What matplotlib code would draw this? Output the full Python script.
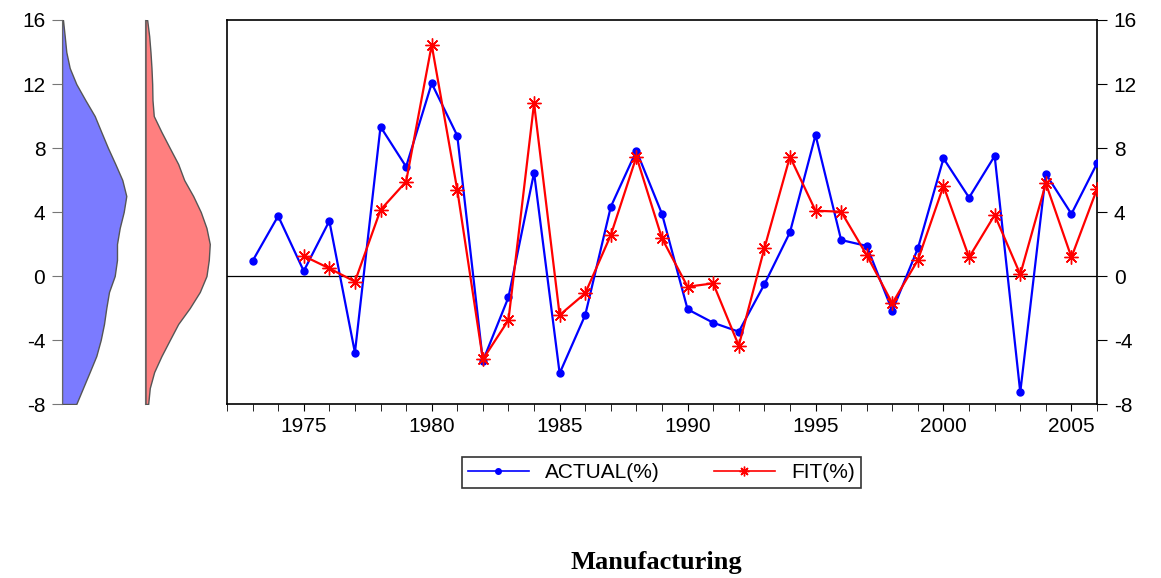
#!/usr/bin/env python3
# Actual vs fitted growth, manufacturing, with marginal density profiles on the left

import numpy as np
import matplotlib.pyplot as plt
from matplotlib.lines import Line2D

plt.rcParams['font.family'] = ['Liberation Sans', 'DejaVu Sans']
plt.rcParams['axes.unicode_minus'] = False

years_actual = list(range(1973, 2007))
actual = [0.94, 3.75, 0.31, 3.44, -4.79, 9.33, 6.83, 12.04, 8.77, -5.31,
          -1.33, 6.46, -6.08, -2.44, 4.33, 7.83, 3.88, -2.08, -2.92, -3.48,
          -0.52, 2.73, 8.81, 2.25, 1.88, -2.17, 1.73, 7.35, 4.90, 7.50,
          -7.27, 6.38, 3.88, 7.04]

years_fit = list(range(1975, 2007))
fit = [1.25, 0.48, -0.35, 4.13, 5.90, 14.44, 5.38, -5.21, -2.75, 10.79,
       -2.44, -1.08, 2.56, 7.46, 2.35, -0.67, -0.46, -4.35, 1.73, 7.46,
       4.08, 4.02, 1.31, -1.71, 1.00, 5.63, 1.17, 3.81, 0.10, 5.79,
       1.17, 5.44]

# density profiles (level, relative width)
dens_levels = [16, 15, 14, 13, 12, 11, 10, 9, 8, 7, 6, 5, 4, 3, 2, 1,
               0, -1, -2, -3, -4, -5, -6, -7, -8]
dens_actual = [1.0, 2.7, 4.3, 7.7, 14.3, 23.3, 32.7, 39.3, 46.0, 53.3, 60.3,
               64.3, 61.7, 57.7, 55.0, 55.0, 52.7, 47.0, 44.3, 42.0, 38.7,
               34.3, 27.7, 21.0, 14.3]
dens_fit = [1.7, 3.7, 5.0, 6.0, 6.7, 7.0, 8.3, 16.0, 24.3, 32.7, 38.7, 47.7,
            55.3, 61.0, 64.3, 63.3, 61.0, 54.3, 44.3, 32.7, 24.3, 16.0, 8.7,
            4.3, 2.7]

yticks = [16, 12, 8, 4, 0, -4, -8]
FS = 15

fig = plt.figure(figsize=(11.61, 5.78), dpi=100)

# main panel
ax = fig.add_axes([0.1955, 0.301, 0.7494, 0.6644])
ax.axhline(0, color='black', lw=0.9, zorder=1)
ax.plot(years_actual, actual, color='#0000ff', lw=1.6, marker='o',
        markersize=5, zorder=3)
ax.plot(years_fit, fit, color='#ff0000', lw=1.6, marker=(8, 2, 0),
        markersize=10, markeredgewidth=1.0, zorder=4)
ax.set_xlim(1972, 2006)
ax.set_ylim(-8, 16)
ax.set_yticks(yticks)
ax.yaxis.tick_right()
ax.tick_params(axis='y', direction='out', length=7, labelsize=FS, pad=5)
ax.set_xticks(range(1975, 2006, 5))
ax.set_xticks(range(1972, 2007), minor=True)
ax.tick_params(axis='x', which='both', direction='out', length=5,
               labelsize=FS, pad=4)
for s in ax.spines.values():
    s.set_linewidth(1.2)

# side density panels
ax_a = fig.add_axes([0.0534, 0.301, 0.0689, 0.6644])
ax_a.fill_betweenx(dens_levels, 0, dens_actual, facecolor='#7b7bff',
                   edgecolor='#555555', lw=1.0)
ax_a.set_xlim(0, 80)
ax_a.set_ylim(-8, 16)
ax_a.set_yticks(yticks)
ax_a.set_xticks([])
ax_a.tick_params(axis='y', direction='out', length=7, labelsize=FS,
                 color='#777777', pad=5)
for k in ['top', 'right', 'bottom']:
    ax_a.spines[k].set_visible(False)
ax_a.spines['left'].set_color('#666666')
ax_a.patch.set_alpha(0)

ax_f = fig.add_axes([0.1253, 0.301, 0.0689, 0.6644])
ax_f.fill_betweenx(dens_levels, 0, dens_fit, facecolor='#ff7f7f',
                   edgecolor='#555555', lw=1.0)
ax_f.set_xlim(0, 80)
ax_f.set_ylim(-8, 16)
ax_f.set_xticks([])
ax_f.set_yticks([])
for k in ['top', 'right', 'bottom']:
    ax_f.spines[k].set_visible(False)
ax_f.spines['left'].set_color('#666666')
ax_f.patch.set_alpha(0)

# legend
handles = [Line2D([], [], color='#0000ff', lw=1.2, marker='o', markersize=4),
           Line2D([], [], color='#ff0000', lw=1.2, marker=(8, 2, 0),
                  markersize=7)]
leg = fig.legend(handles, ['ACTUAL(%)', 'FIT(%)'], loc='center',
                 bbox_to_anchor=(0.5698, 0.1825), ncol=2, fontsize=FS,
                 frameon=True, fancybox=False, edgecolor='black',
                 handlelength=2.9, handletextpad=0.8, columnspacing=2.6,
                 borderpad=0.3, borderaxespad=0.0)
leg.get_frame().set_linewidth(1.2)

fig.text(0.5655, 0.0156, 'Manufacturing', ha='center', va='baseline',
         fontsize=19, fontweight='bold', family=['Liberation Serif'])

fig.savefig('out.png', dpi=100)
